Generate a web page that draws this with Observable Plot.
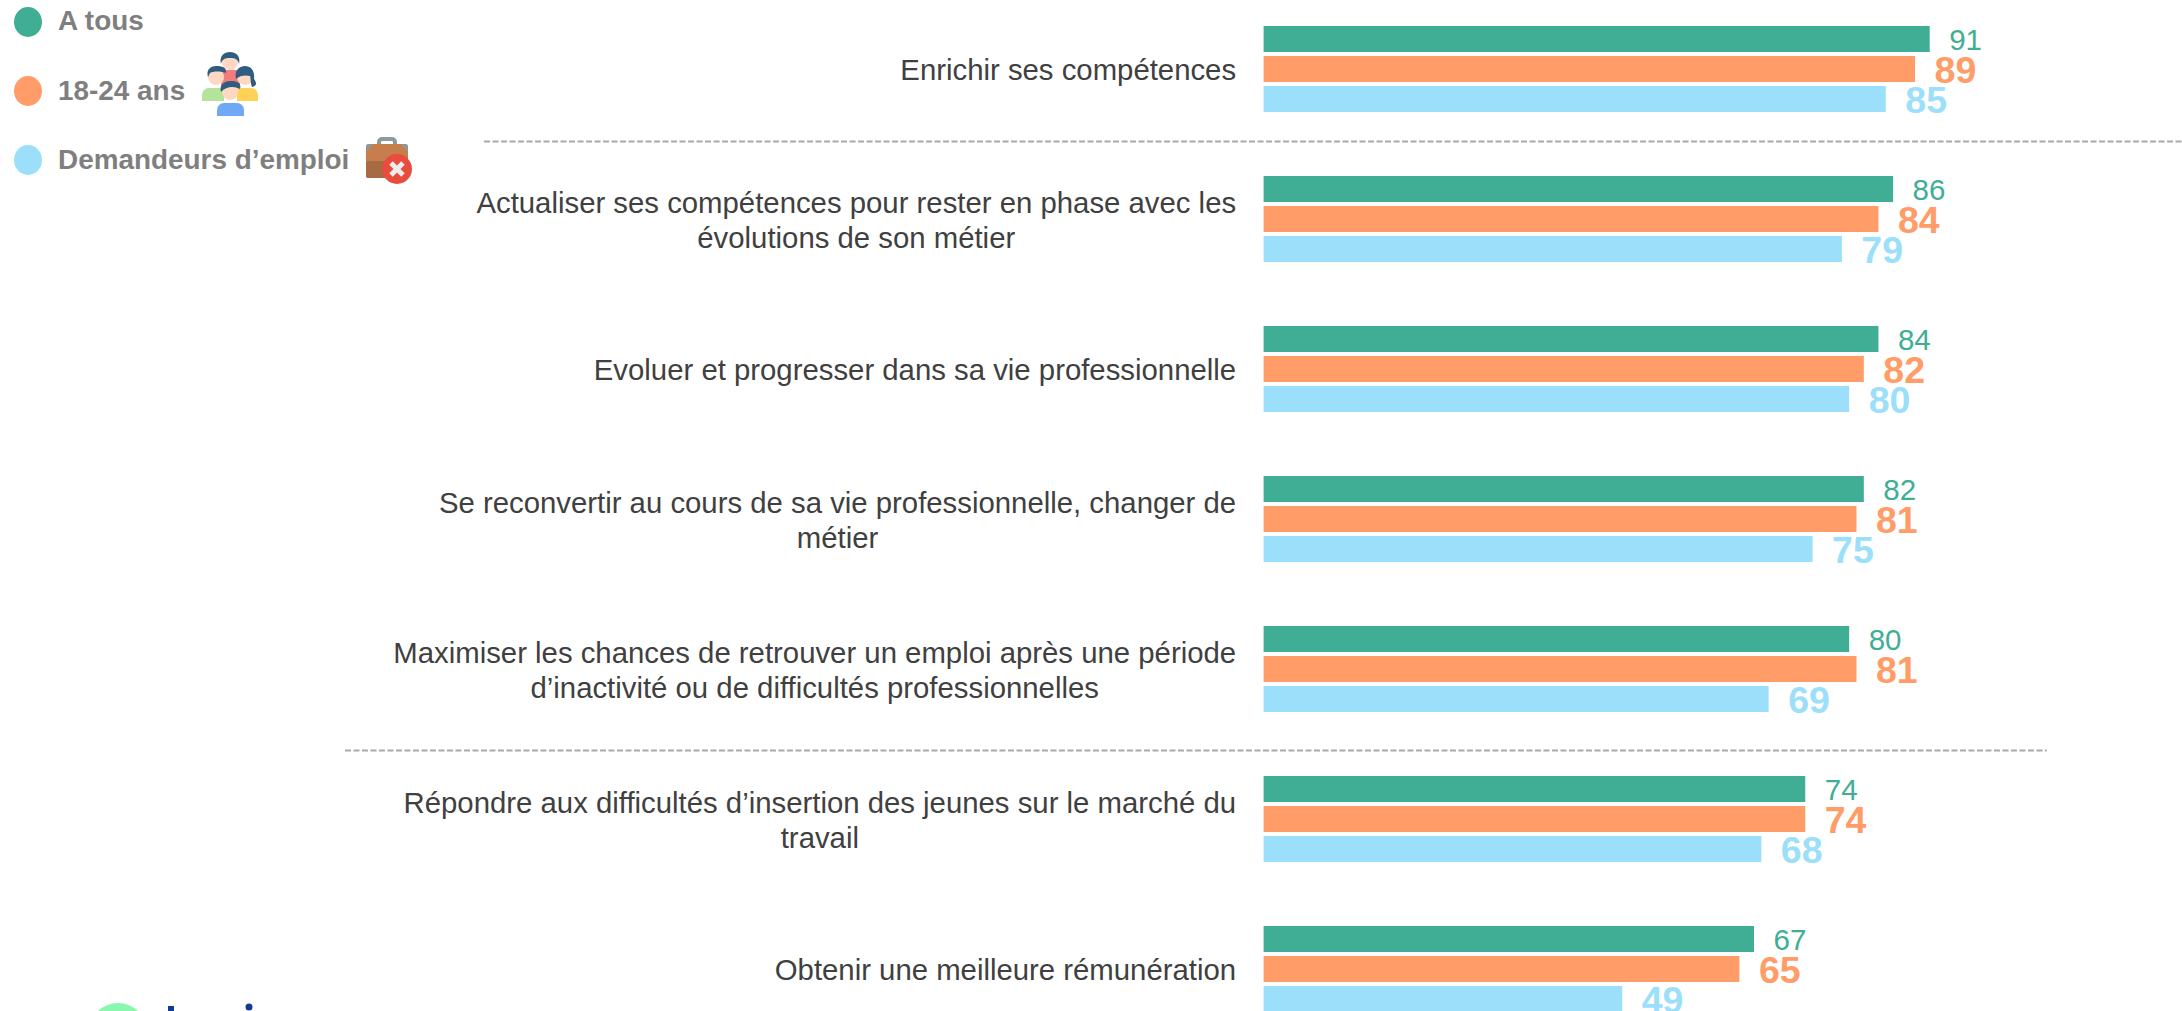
<!DOCTYPE html>
<html lang="fr">
<head>
<meta charset="utf-8">
<script src="https://cdn.jsdelivr.net/npm/d3@7"></script>
<script src="https://cdn.jsdelivr.net/npm/@observablehq/plot@0.6"></script>
<style>
html,body{margin:0;padding:0;background:#fff;overflow:hidden;width:2182px;height:1011px}
#chart{position:absolute;left:0;top:0}
#chart svg{display:block}
.lg{position:absolute;font:bold 27.9px "Liberation Sans",Arial,sans-serif;color:#7f7f7f;white-space:nowrap;line-height:30px}
.sw{position:absolute;width:28px;height:30px;border-radius:50%}
.ic,.logo{position:absolute}
</style>
</head>
<body>
<div id="chart"></div>
<div class="sw" style="left:14px;top:7px;background:#3fae94"></div>
<div class="lg" style="left:58px;top:6px">A tous</div>
<div class="sw" style="left:14px;top:76px;background:#ff9c68"></div>
<div class="lg" style="left:58px;top:76px">18-24 ans</div>
<div class="sw" style="left:14px;top:145px;background:#9bdffb"></div>
<div class="lg" style="left:58px;top:145px">Demandeurs d’emploi</div>

<svg class="ic" style="left:202px;top:52px" width="58" height="64" viewBox="0 0 58 64">
  <rect x="19" y="18" width="19" height="20" rx="4" fill="#f47c7c"/>
  <circle cx="28" cy="10" r="8" fill="#ffd8c4"/><path d="M19 12c-2-8 3-12 9-12s11 4 9 12c-1-5-4-6-9-6s-8 1-9 6z" fill="#2f5d82"/>
  <path d="M0 49v-6a7 7 0 0 1 7-7h15v13z" fill="#b4e39a"/>
  <path d="M35 49v-13h14a7 7 0 0 1 7 7v6z" fill="#ffd157"/>
  <circle cx="14" cy="25" r="8" fill="#ffd8c4"/><path d="M6 25c-2-7 2-11 8-11s11 1 10 7c-5-2-13-2-16 0z" fill="#2f5d82"/>
  <circle cx="43" cy="25" r="8" fill="#ffd8c4"/><path d="M34 27c-2-8 3-13 9-13s10 5 9 13c3 4 3 7-2 8-2-6-1-9-2-11-4-1-10-1-14 3z" fill="#2f5d82"/>
  <circle cx="28" cy="40" r="8" fill="#ffd8c4"/><path d="M19 40c-2-7 3-11 9-11s12 1 10 8c-5-3-14-3-19 3z" fill="#2f5d82"/>
  <path d="M15 64v-6a7 7 0 0 1 7-7h13a7 7 0 0 1 7 7v6z" fill="#6fa8f5"/>
</svg>
<svg class="ic" style="left:366px;top:137px" width="47" height="47" viewBox="0 0 47 47">
  <path d="M13 8v-3a3 3 0 0 1 3-3h10a3 3 0 0 1 3 3v3" fill="none" stroke="#8d9a9b" stroke-width="4"/>
  <rect x="0" y="7" width="42" height="34" rx="3" fill="#c67f4c"/>
  <rect x="0" y="24" width="42" height="17" rx="2" fill="#a66a44"/>
  <path d="M0 14v-4a3 3 0 0 1 3-3h4zM42 14v-4a3 3 0 0 0-3-3h-4z" fill="#8d9a9b"/>
  <circle cx="31" cy="32" r="15" fill="#e74c3c"/>
  <path d="M25 26l12 12m0-12l-12 12" stroke="#ececec" stroke-width="5"/>
</svg>
<svg class="logo" style="left:0;top:991px" width="300" height="20" viewBox="0 0 300 20">
  <circle cx="118" cy="41" r="29" fill="#8af7ae"/>
  <rect x="168" y="15" width="6" height="6" fill="#0f3b97"/>
  <circle cx="249" cy="16" r="3.500" fill="#0f3b97"/>
</svg>

<script>
const labels = [
  "Enrichir ses compétences",
  "Actualiser ses compétences pour rester en phase avec les\névolutions de son métier",
  "Evoluer et progresser dans sa vie professionnelle",
  "Se reconvertir au cours de sa vie professionnelle, changer de\nmétier",
  "Maximiser les chances de retrouver un emploi après une période\nd’inactivité ou de difficultés professionnelles",
  "Répondre aux difficultés d’insertion des jeunes sur le marché du\ntravail",
  "Obtenir une meilleure rémunération"
];
const seriesNames = ["A tous", "18-24 ans", "Demandeurs d’emploi"];
const seriesColors = ["#3fae94", "#ff9c68", "#9bdffb"];
const aTous = [91, 86, 84, 82, 80, 74, 67];
const jeunes = [89, 84, 82, 81, 81, 74, 65];
const demandeurs = [85, 79, 80, 75, 69, 68, 49];

const FONT = '"Liberation Sans", Arial, sans-serif';
const LABEL_SIZE = 29.33;

// one band per bar, plus two empty bands between groups
const yDomain = labels.flatMap((_, g) => [`${g}-0`, `${g}-1`, `${g}-2`, `${g}-a`, `${g}-b`]);
const rows = [aTous, jeunes, demandeurs].flatMap((vals, s) =>
  vals.map((v, g) => ({key: `${g}-${s}`, value: v, serie: seriesNames[s]})));

const ctx = document.createElement("canvas").getContext("2d");
ctx.font = `${LABEL_SIZE}px ${FONT}`;
const blockWidth = (t) => Math.max(...t.split("\n").map((l) => ctx.measureText(l).width));

const color = {domain: seriesNames, range: seriesColors};
const valueMark = (s, size, weight) => Plot.text(rows.filter((d) => d.serie === seriesNames[s]), {
  x: "value", y: "key", text: "value", fill: seriesColors[s],
  textAnchor: "start", dx: 19, dy: 1.5, fontSize: size, fontWeight: weight, fontFamily: FONT
});

const chart = Plot.plot({
  width: 2182, height: 1011, margin: 0,
  style: {background: "transparent"},
  x: {domain: [-172.63, 125.47], range: [0, 2182], axis: null},
  y: {domain: yDomain, range: [24, 1074], paddingInner: 4 / 30, paddingOuter: 2 / 30, align: 0.5, axis: null},
  color,
  marks: [
    Plot.barX(rows, {x: "value", y: "key", fill: "serie"}),
    valueMark(0, 29.5, "normal"),
    valueMark(1, 37.5, "bold"),
    valueMark(2, 37.5, "bold"),
    ...labels.map((t, g) => Plot.text([t], {
      x: () => 0, y: () => `${g}-1`, text: (d) => d,
      dx: -28 - blockWidth(t) / 2, dy: -0.5, textAnchor: "middle", lineHeight: 1.19,
      fontSize: LABEL_SIZE, fill: "#404040", fontFamily: FONT
    })),
    Plot.ruleY(["0-a"], {x1: -106.5, x2: 125.47, dy: 12, stroke: "#a9a9a9", strokeWidth: 2, strokeDasharray: "6 2.500"}),
    Plot.ruleY(["4-a"], {x1: -125.5, x2: 107, dy: 21, stroke: "#a9a9a9", strokeWidth: 2, strokeDasharray: "6 2.500"})
  ]
});
document.getElementById("chart").append(chart);
</script>
</body>
</html>
